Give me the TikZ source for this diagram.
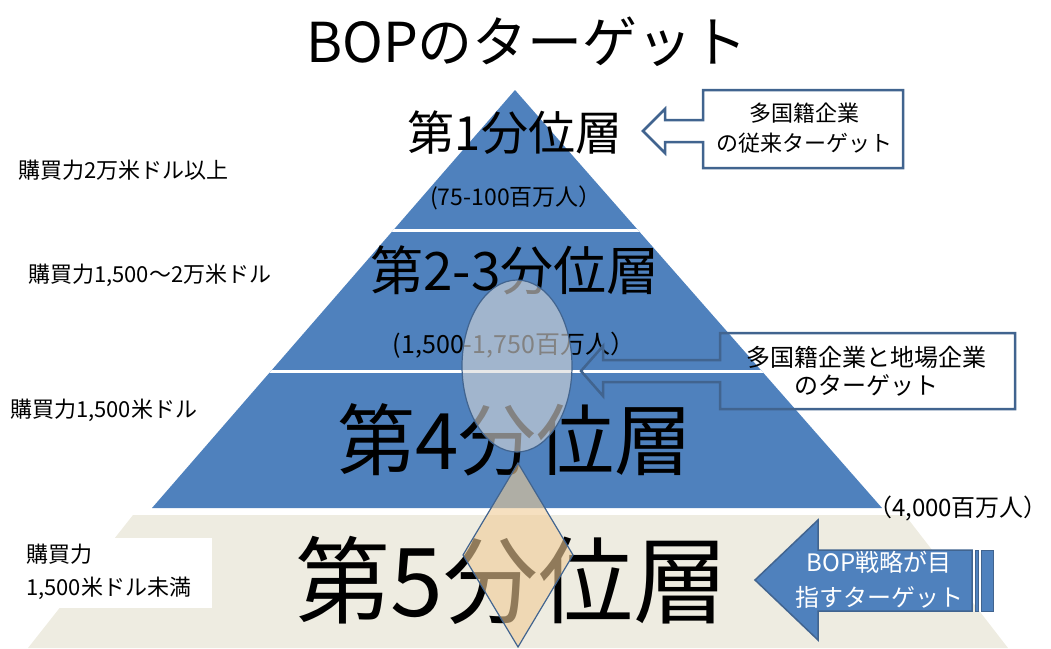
\documentclass[tikz,border=0pt]{standalone}
\usepackage{fontspec}
\setmainfont{Noto Sans CJK JP}
\definecolor{pblue}{HTML}{4F81BD}
\definecolor{beige}{HTML}{EEECE1}
\definecolor{oline}{HTML}{41648F}
\definecolor{elfill}{HTML}{D9D9D9}
\definecolor{dmfill}{HTML}{F0CC96}
\tikzset{
  tier/.style={inner sep=0pt, text=black},
  lbl/.style={inner sep=0pt, anchor=west, font=\fontsize{22}{26}\selectfont},
  callout/.style={draw=oline, line width=2.5pt, line join=miter},
  ctext/.style={inner sep=0pt, align=center, font=\fontsize{22}{30}\selectfont},
}
\begin{document}
\begin{tikzpicture}[x=1pt,y=-1pt]
\useasboundingbox (0,0) rectangle (1051,648);
% background shapes
\fill[beige] (133,515) -- (905,515) -- (1008,648) -- (28,648) -- cycle;
\fill[pblue] (515,90) -- (882,508) -- (152,508) -- cycle;
\begin{scope}
  \clip (515,90) -- (882,508) -- (152,508) -- cycle;
  \draw[white, line width=3pt] (0,230) -- (1051,230);
  \draw[white, line width=3pt] (0,371) -- (1051,371);
\end{scope}
\fill[white] (22,538) rectangle (212,608);
% title
\node[tier, font=\fontsize{55}{60}\selectfont] (title) at (527,42) {BOPのターゲット};
% tier labels
\node[tier, font=\fontsize{47}{50}\selectfont] (t1) at (515,133) {第1分位層};
\node[tier, font=\fontsize{23}{26}\selectfont] (p1) at (516,198) {(75-100百万人）};
\node[tier, font=\fontsize{53}{56}\selectfont] (t2) at (515,270) {第2-3分位層};
\node[tier, font=\fontsize{25}{28}\selectfont] (p2) at (514,345) {(1,500-1,750百万人）};
\node[tier, font=\fontsize{78}{80}\selectfont] (t4) at (515,440) {第4分位層};
\node[tier, font=\fontsize{95}{96}\selectfont] (t5) at (512,580) {第5分位層};
\node[tier, font=\fontsize{24}{28}\selectfont] (p4) at (958,508) {（4,000百万人）};
% left labels
\node[lbl] (l1) at (18,170) {購買力2万米ドル以上};
\node[lbl] (l2) at (28,275) {購買力1,500〜2万米ドル};
\node[lbl] (l3) at (10,410) {購買力1,500米ドル};
\node[lbl, align=left, font=\fontsize{22}{33}\selectfont] (l4) at (26,572) {購買力\\1,500米ドル未満};
% overlays
\draw[oline, line width=1.2pt, fill=elfill, fill opacity=0.6] (517,366) ellipse [x radius=55, y radius=86];
\draw[oline, line width=1.2pt, fill=dmfill, fill opacity=0.6] (518,463) -- (573,555) -- (518,647) -- (463,555) -- cycle;
% callout 1
\draw[callout, fill=white] (703,90) -- (903,90) -- (903,168) -- (703,168) -- (703,142) -- (665,142) -- (665,153) -- (643,131) -- (665,109) -- (665,120) -- (703,120) -- cycle;
\node[ctext] (c1) at (804,128) {多国籍企業\\の従来ターゲット};
% callout 2
\draw[callout] (720,333) -- (1015,333) -- (1015,409) -- (720,409) -- (720,382) -- (603,382) -- (603,396) -- (581,371) -- (603,346) -- (603,360) -- (720,360) -- cycle;
\node[ctext, font=\fontsize{24}{28}\selectfont] (c2) at (866,371) {多国籍企業と地場企業\\のターゲット};
% BOP arrow
\draw[oline, line width=1.5pt, fill=pblue, line join=miter] (755,580) -- (818,520) -- (818,550) -- (972,550) -- (972,611) -- (818,611) -- (818,640) -- cycle;
\draw[oline, line width=1pt, fill=pblue] (975,550) rectangle (978,611);
\draw[oline, line width=1pt, fill=pblue] (981,550) rectangle (993,611);
\node[ctext, text=white, font=\fontsize{24}{35}\selectfont] (c3) at (879,580) {BOP戦略が目\\指すターゲット};
\end{tikzpicture}
\end{document}
